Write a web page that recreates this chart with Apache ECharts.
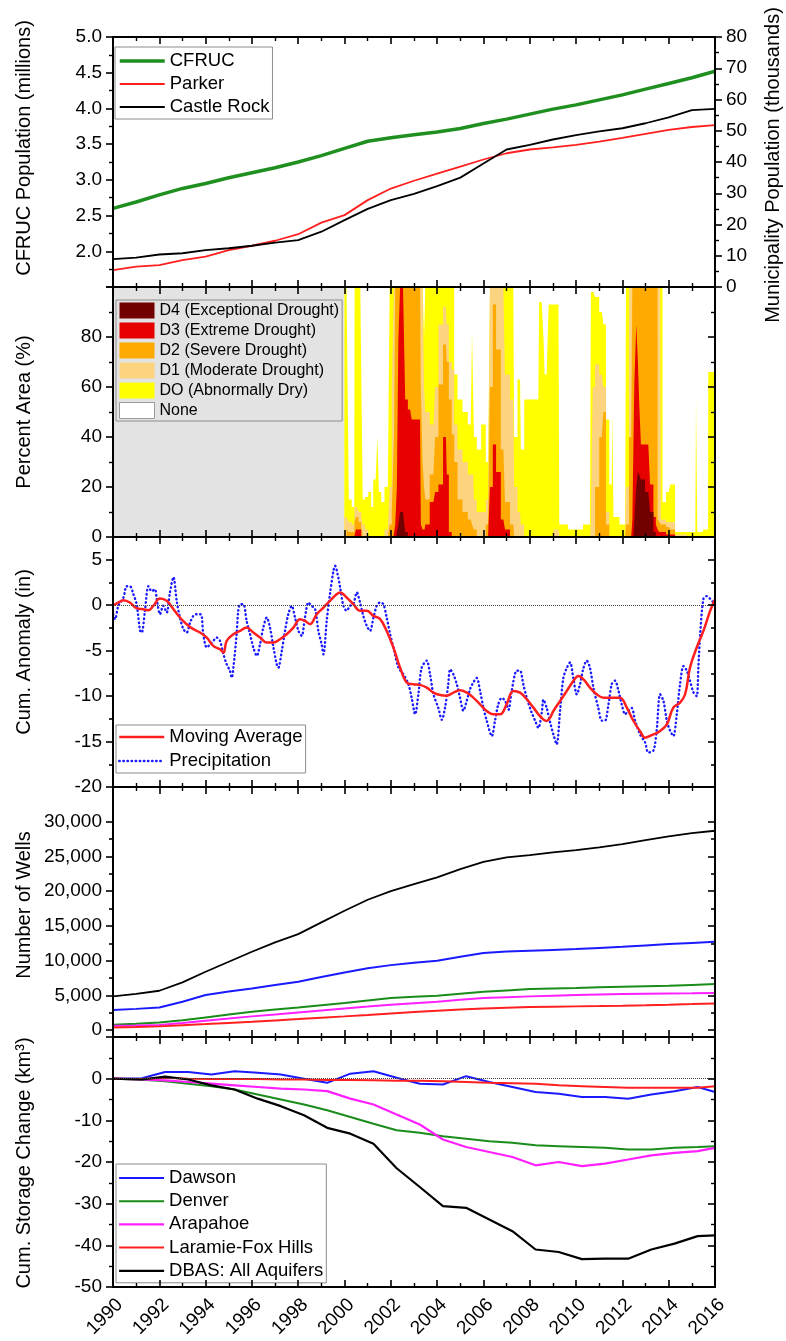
<!DOCTYPE html>
<html>
<head>
<meta charset="utf-8">
<script src="https://cdn.jsdelivr.net/npm/echarts@6/dist/echarts.min.js"></script>
<style>
html, body { margin: 0; padding: 0; background: #fff; }
#chart { width: 786px; height: 1341px; }
</style>
</head>
<body>
<div id="chart"></div>
<script>
// ---------- Population (annual) ----------
const years = [1990,1991,1992,1993,1994,1995,1996,1997,1998,1999,2000,2001,2002,2003,2004,2005,2006,2007,2008,2009,2010,2011,2012,2013,2014,2015,2016];
const cfrucMillions = [2.60,2.69,2.79,2.88,2.95,3.03,3.10,3.17,3.25,3.34,3.44,3.54,3.59,3.63,3.67,3.72,3.79,3.85,3.92,3.99,4.05,4.12,4.19,4.27,4.35,4.43,4.52];
const parkerThousands = [5.4,6.5,7.0,8.6,9.7,11.8,13.2,14.8,16.9,20.6,23.0,27.8,31.5,34.0,36.3,38.5,40.8,42.8,44.0,44.7,45.5,46.5,47.7,49.0,50.3,51.2,51.8];
const castleRockThousands = [8.9,9.4,10.4,10.8,11.8,12.4,13.2,14.2,15.0,17.7,21.4,25.0,27.8,29.8,32.3,35.0,39.5,44.0,45.5,47.2,48.6,49.8,50.8,52.4,54.3,56.6,57.0];

// ---------- Drought monitor, cumulative percent area (D0-D4, D1-D4, ...) ----------
const droughtYear = [1999.99,2000.00,2000.17,2000.20,2000.42,2000.45,2000.53,2000.68,2000.76,2000.81,2000.95,2001.10,2001.20,2001.28,2001.38,2001.45,2001.52,2001.65,2001.80,2001.93,
  2001.97,2002.11,2002.16,2002.22,2002.30,2002.35,2002.45,2002.60,2002.64,2002.83,2002.97,2003.26,2003.33,2003.41,2003.46,2003.52,2003.84,2003.98,2004.13,2004.38,
  2004.45,2004.56,2004.70,2004.77,2004.99,2005.20,2005.45,2005.56,2005.62,2005.80,2006.00,2006.20,2006.36,2006.45,2006.64,2006.86,2007.00,2007.29,2007.36,2007.58,
  2007.65,2007.87,2008.37,2008.44,2008.59,2008.62,2008.66,2008.80,2008.83,2009.24,2009.31,2010.00,2010.60,2010.68,2010.75,2010.89,2011.11,2011.25,2011.33,2011.54,
  2011.60,2011.63,2012.12,2012.19,2012.38,2012.48,2012.55,2012.65,2012.69,2012.76,2012.84,2013.12,2013.27,2013.41,2013.48,2013.56,2013.63,2013.70,2013.77,2014.00,
  2014.13,2014.42,2015.15,2015.21,2015.26,2015.70,2015.72,2016.00];
const d0Pct = [0,100,100,15,12,100,100,100,100,15,16,18,12,23,20,40,18,14,20,15,
  100,100,100,100,100,100,100,100,100,100,100,100,100,100,80,100,100,100,100,100,
  100,100,100,65,55,50,45,82,40,35,45,30,100,100,100,100,100,100,40,63,
  35,55,55,94,94,77,65,65,93,93,5,3,5,98,98,96,90,85,47,21,
  50,8,5,100,100,100,100,100,100,100,100,100,100,100,100,100,100,100,14,18,
  21,2,2,55,2,3,66,66];
const d1Pct = [0,8,8,6,5,12,12,10,8,5,3,0,0,0,0,0,0,0,3,3,
  20,60,100,100,100,100,100,100,100,100,100,100,100,100,60,50,45,60,85,92,
  85,70,67,45,35,30,25,25,15,10,10,15,100,100,100,100,65,55,20,10,
  5,0,0,0,0,0,0,0,0,3,0,0,0,5,60,69,65,60,10,0,
  0,0,0,20,100,100,100,100,100,100,100,100,100,100,100,100,100,7,7,6,
  6,1,0,0,0,0,0,0];
const d2Pct = [0,0,3,2,2,6,8,6,4,0,0,0,0,0,0,0,0,0,0,0,
  5,10,40,100,100,100,100,100,100,100,100,100,60,30,20,15,25,40,61,77,
  70,55,41,30,15,10,7,5,3,0,0,5,60,93,75,35,14,5,0,0,
  0,0,0,0,0,0,0,0,0,0,0,0,0,0,0,20,40,50,5,0,
  0,0,0,5,40,100,100,100,100,100,100,100,100,100,100,7,6,5,5,4,
  3,0,0,0,0,0,0,0];
const d3Pct = [0,0,0,0,0,0,3,3,0,0,0,0,0,0,0,0,0,0,0,0,
  0,0,0,5,20,79,100,100,55,51,47,47,5,3,3,5,14,18,21,40,
  25,2,0,0,0,0,0,0,0,0,0,0,20,37,26,7,3,0,0,0,
  0,0,0,0,0,0,0,0,0,0,0,0,0,0,0,0,0,0,0,0,
  0,0,0,0,0,7,61,85,70,54,37,37,21,8,5,3,2,2,2,1,
  1,0,0,0,0,0,0,0];
const d4Pct = [0,0,0,0,0,0,0,0,0,0,0,0,0,0,0,0,0,0,0,0,
  0,0,0,0,0,5,10,10,2,0,0,0,0,0,0,0,0,0,0,0,
  0,0,0,0,0,0,0,0,0,0,0,0,0,0,0,0,0,0,0,0,
  0,0,0,0,0,0,0,0,0,0,0,0,0,0,0,0,0,0,0,0,
  0,0,0,0,0,0,7,20,26,25,23,18,10,2,0,0,0,0,0,0,
  0,0,0,0,0,0,0,0];

// ---------- Cumulative precipitation anomaly (in) ----------
const precipYear = [1990.01,1990.09,1990.23,1990.45,1990.59,1990.73,1990.88,1991.02,1991.17,1991.24,1991.38,1991.53,1991.67,1991.81,1991.89,1992.03,1992.17,1992.32,1992.46,1992.61,
  1992.75,1992.89,1993.04,1993.18,1993.33,1993.47,1993.61,1993.76,1993.83,1993.90,1994.05,1994.19,1994.33,1994.48,1994.62,1994.77,1994.91,1995.05,1995.13,1995.20,
  1995.34,1995.41,1995.49,1995.63,1995.77,1995.92,1996.06,1996.21,1996.35,1996.49,1996.64,1996.78,1996.93,1997.07,1997.14,1997.29,1997.43,1997.57,1997.72,1997.86,
  1998.01,1998.15,1998.29,1998.44,1998.58,1998.73,1998.87,1999.01,1999.09,1999.23,1999.37,1999.52,1999.59,1999.73,1999.81,1999.95,2000.09,2000.24,2000.38,2000.53,
  2000.67,2000.81,2000.96,2001.10,2001.25,2001.39,2001.53,2001.68,2001.82,2001.97,2002.11,2002.33,2002.54,2002.76,2002.90,2003.05,2003.19,2003.33,2003.55,2003.69,
  2003.84,2004.05,2004.20,2004.34,2004.48,2004.56,2004.70,2004.85,2004.99,2005.13,2005.28,2005.42,2005.56,2005.71,2005.85,2006.00,2006.14,2006.36,2006.50,2006.64,
  2006.79,2006.93,2007.08,2007.22,2007.44,2007.58,2007.72,2007.87,2008.08,2008.23,2008.37,2008.52,2008.59,2008.73,2008.88,2009.02,2009.16,2009.31,2009.45,2009.60,
  2009.74,2009.88,2010.03,2010.17,2010.32,2010.46,2010.60,2010.75,2010.96,2011.11,2011.25,2011.40,2011.54,2011.68,2011.83,2011.97,2012.12,2012.26,2012.40,2012.55,
  2012.76,2012.98,2013.12,2013.34,2013.48,2013.63,2013.77,2013.92,2014.06,2014.20,2014.35,2014.49,2014.64,2014.78,2014.92,2015.07,2015.21,2015.28,2015.36,2015.50,
  2015.64,2015.79,2015.93];
const precipIn = [-0.99,-1.54,-0.07,0.84,2.09,2.09,1.21,0.11,-2.83,-3.01,-0.62,2.09,1.54,1.76,0.66,-0.99,-0.07,-0.81,1.40,3.08,
  0.48,-1.36,-2.64,-3.01,-1.91,-1.17,-0.99,-0.99,-1.17,-3.19,-4.66,-4.30,-3.93,-3.56,-3.93,-5.40,-6.50,-7.23,-7.97,-6.87,
  -3.19,-0.62,0.11,0.11,-1.73,-3.19,-4.66,-5.58,-4.30,-2.46,-1.36,-2.46,-4.66,-6.50,-6.87,-5.03,-2.83,-0.99,-0.07,-1.36,
  -2.83,-3.38,-1.36,0.29,-0.07,-0.44,-2.83,-4.30,-5.40,-1.73,1.21,3.78,4.33,3.05,1.94,-0.07,-0.62,-0.07,0.11,1.40,
  0.29,-1.17,-2.28,-2.83,-1.36,-0.07,0.30,0.10,-1.36,-3.19,-4.66,-6.87,-7.60,-8.70,-10.20,-12.00,-9.80,-6.90,-6.10,-7.60,
  -9.80,-11.30,-12.60,-11.30,-8.70,-7.05,-7.60,-8.70,-10.20,-11.60,-10.50,-9.25,-8.50,-8.00,-9.40,-11.30,-12.70,-14.40,-12.70,-10.90,
  -10.20,-10.50,-11.50,-9.40,-7.20,-7.20,-8.70,-10.20,-11.80,-12.70,-13.50,-11.80,-10.40,-11.30,-12.90,-14.20,-15.30,-11.60,-8.00,-6.90,
  -6.30,-8.00,-9.80,-8.70,-6.90,-6.10,-6.90,-9.10,-11.30,-12.70,-12.70,-10.90,-8.70,-8.30,-9.40,-10.90,-12.00,-11.60,-11.30,-12.70,
  -14.20,-15.10,-16.20,-16.00,-13.80,-9.80,-10.50,-12.70,-13.80,-14.40,-12.00,-8.70,-6.70,-7.20,-8.30,-9.60,-10.00,-6.90,-3.20,0.70,
  1.00,0.70,0.30];
const avgYear = [1990.01,1990.23,1990.45,1990.73,1991.02,1991.31,1991.53,1991.74,1992.03,1992.32,1992.61,1992.89,1993.18,1993.47,1993.76,1994.05,1994.33,1994.62,1994.77,1994.91,
  1995.20,1995.49,1995.77,1996.06,1996.35,1996.64,1996.93,1997.21,1997.50,1997.79,1998.08,1998.29,1998.51,1998.80,1999.09,1999.37,1999.66,1999.81,2000.09,2000.38,
  2000.67,2000.96,2001.25,2001.53,2001.82,2002.11,2002.40,2002.69,2002.97,2003.26,2003.55,2003.84,2004.13,2004.41,2004.70,2004.99,2005.28,2005.56,2005.85,2006.14,
  2006.43,2006.72,2007.00,2007.29,2007.58,2007.87,2008.16,2008.44,2008.73,2008.88,2009.02,2009.31,2009.60,2009.88,2010.10,2010.32,2010.60,2010.89,2011.18,2011.61,
  2011.90,2012.19,2012.48,2012.76,2012.98,2013.34,2013.63,2013.92,2014.20,2014.49,2014.71,2014.92,2015.21,2015.50,2015.79,2016.00];
const avgIn = [0.00,0.29,0.55,0.29,-0.33,-0.44,-0.55,-0.07,0.73,0.48,-0.44,-1.36,-2.09,-2.64,-3.01,-3.56,-4.48,-4.85,-5.21,-3.93,
  -3.19,-2.83,-2.46,-3.01,-3.56,-4.11,-4.11,-3.74,-3.19,-2.46,-1.54,-1.73,-2.09,-0.99,-0.26,0.48,1.21,1.40,0.84,0.11,
  -0.62,-0.62,-1.17,-1.50,-2.83,-4.66,-6.87,-8.52,-8.70,-8.77,-9.07,-9.62,-9.88,-9.95,-9.62,-9.36,-9.62,-10.17,-10.90,-11.64,
  -12.00,-12.00,-10.90,-9.43,-9.62,-10.35,-11.27,-12.19,-12.74,-12.37,-11.64,-10.54,-9.43,-8.33,-7.78,-8.15,-9.07,-9.80,-10.17,-10.17,
  -10.17,-11.27,-12.74,-13.84,-14.57,-14.21,-13.84,-13.11,-11.27,-10.72,-9.80,-6.87,-4.66,-2.83,-0.62,0.66];

// ---------- Wells (annual) ----------
const wellsAll = [4850,5200,5660,6860,8400,9840,11280,12620,13820,15500,17180,18760,20000,21000,22000,23180,24230,24860,25190,25580,25910,26300,26780,27350,27880,28360,28700];
const wellsDawson = [2880,3050,3260,4080,5040,5550,6000,6480,6960,7650,8300,8900,9350,9700,9980,10550,11090,11300,11420,11540,11660,11830,12000,12190,12380,12550,12720];
const wellsDenver = [770,900,1100,1400,1820,2230,2640,2950,3260,3580,3890,4250,4610,4780,4940,5230,5520,5710,5900,5980,6050,6150,6240,6310,6380,6500,6620];
const wellsArapahoe = [620,660,720,1000,1340,1650,1970,2250,2540,2830,3120,3380,3650,3870,4080,4350,4610,4730,4850,4950,5040,5110,5180,5230,5280,5300,5330];
const wellsLaramie = [380,450,530,700,860,1030,1200,1390,1580,1780,1970,2180,2400,2600,2780,2950,3120,3220,3310,3360,3410,3450,3500,3570,3650,3740,3840];

// ---------- Cumulative groundwater storage change (km3) ----------
const storageYear = [1990,1991.25,1992.25,1993.25,1994.25,1995.25,1996.25,1997.25,1998.25,1999.25,2000.25,2001.25,2002.25,2003.25,2004.25,2005.25,2006.25,2007.25,2008.25,2009.25,2010.25,2011.25,2012.25,2013.25,2014.25,2015.25,2016];
const storDawson = [0,0.1,1.6,1.6,1.0,1.8,1.4,1.0,0.0,-1.0,1.2,1.8,0.2,-1.2,-1.4,0.6,-0.8,-2.0,-3.2,-3.6,-4.4,-4.4,-4.8,-3.8,-3.0,-2.0,-3.2];
const storDenver = [0,-0.25,-0.6,-1.2,-1.8,-2.6,-3.8,-5.0,-6.2,-7.6,-9.2,-10.8,-12.4,-13.0,-13.8,-14.4,-15.0,-15.4,-16.0,-16.2,-16.4,-16.6,-17.0,-17.0,-16.6,-16.4,-16.2];
const storArapahoe = [0,-0.2,-0.4,-0.8,-1.2,-1.6,-2.0,-2.4,-2.6,-3.0,-4.8,-6.2,-8.6,-11.0,-14.6,-16.4,-17.6,-18.8,-20.8,-20.0,-21.0,-20.4,-19.4,-18.4,-17.8,-17.4,-16.6];
const storLaramie = [0,-0.1,0.2,0.0,-0.1,-0.1,-0.1,-0.2,-0.2,-0.3,-0.3,-0.4,-0.5,-0.5,-0.6,-0.8,-1.0,-1.1,-1.2,-1.6,-1.8,-2.0,-2.2,-2.2,-2.2,-2.2,-1.8];
const storDBAS = [0,-0.2,0.5,-0.2,-1.6,-2.6,-4.8,-6.6,-8.8,-11.8,-13.2,-15.6,-21.5,-26.0,-30.6,-31.0,-33.8,-36.6,-41.0,-41.6,-43.3,-43.2,-43.2,-41.0,-39.6,-37.8,-37.6];

// ---------- Axis tick values ----------
const anomalyMajor = [-20,-15,-10,-5,0,5];
const anomalyMinor = [-17.5,-12.5,-7.5,-2.5,2.5];
const wellsMajor = [0,5000,10000,15000,20000,25000,30000];
const wellsMinor = [2500,7500,12500,17500,22500,27500];

// ---------- Helpers ----------
const FONT = '"Liberation Sans", Arial, Helvetica, sans-serif';
const pairs = (xs, ys) => xs.map((x, i) => [x, ys[i]]);
const tops = [37, 287, 537, 787, 1037];
const PANEL_H = 250;

function xAxisFor(i, pos) {
  const labelled = (i === 4 && pos === 'bottom');
  return {
    type: 'value', gridIndex: i, position: pos, min: 1990, max: 2016, interval: 2, z: 6,
    axisLine: { show: true, onZero: false, lineStyle: { color: '#000', width: 2 } },
    axisTick: { show: true, inside: true, length: 7, lineStyle: { color: '#000', width: 1.6 } },
    minorTick: { show: true, splitNumber: 2, length: 4, lineStyle: { color: '#000', width: 1.4 } },
    splitLine: { show: false },
    axisLabel: {
      show: labelled, rotate: 45, fontSize: 19, fontFamily: FONT, color: '#000',
      margin: 8, align: 'right', verticalAlign: 'top', formatter: v => String(v)
    }
  };
}

function yAxisFor(o) {
  const ax = {
    type: 'value', gridIndex: o.grid, position: o.pos, min: o.min, max: o.max, z: 6,
    axisLine: { show: o.line !== false, onZero: false, lineStyle: { color: '#000', width: 2 } },
    axisTick: { show: true, inside: !!o.inside, length: o.tickLen || 7, lineStyle: { color: '#000', width: 1.6 } },
    minorTick: { show: o.minor !== false, splitNumber: 2, length: 4, lineStyle: { color: '#000', width: 1.4 } },
    splitLine: { show: false },
    axisLabel: {
      show: !!o.labels, fontSize: 19, fontFamily: FONT, color: '#000', margin: 11,
      formatter: o.formatter
    }
  };
  if (o.interval !== undefined) ax.interval = o.interval;
  if (o.ticks) {
    ax.axisTick.customValues = o.ticks;
    ax.axisLabel.customValues = o.ticks;
  }
  return ax;
}

const yAxes = [
  // 0,1: population
  yAxisFor({ grid: 0, pos: 'left', min: 1.5, max: 5, interval: 0.5, labels: true,
    formatter: v => (v < 1.75 ? '' : v.toFixed(1)) }),
  yAxisFor({ grid: 0, pos: 'right', min: 0, max: 80, interval: 10, labels: true,
    formatter: v => String(v) }),
  // 2,3: drought
  yAxisFor({ grid: 1, pos: 'left', min: 0, max: 100, interval: 20, labels: true,
    formatter: v => (v >= 100 ? '' : String(v)) }),
  yAxisFor({ grid: 1, pos: 'right', min: 0, max: 100, interval: 20, inside: true }),
  // 4,5: precipitation anomaly (major) and 6,7 (minor ticks)
  yAxisFor({ grid: 2, pos: 'left', min: -20, max: 7.5, ticks: anomalyMajor, minor: false, labels: true,
    formatter: v => String(v) }),
  yAxisFor({ grid: 2, pos: 'right', min: -20, max: 7.5, ticks: anomalyMajor, minor: false, inside: true }),
  yAxisFor({ grid: 2, pos: 'left', min: -20, max: 7.5, ticks: anomalyMinor, minor: false, line: false, tickLen: 4 }),
  yAxisFor({ grid: 2, pos: 'right', min: -20, max: 7.5, ticks: anomalyMinor, minor: false, line: false, tickLen: 4, inside: true }),
  // 8,9: wells (major) and 10,11 (minor ticks)
  yAxisFor({ grid: 3, pos: 'left', min: -1000, max: 35000, ticks: wellsMajor, minor: false, labels: true,
    formatter: v => v.toLocaleString('en-US') }),
  yAxisFor({ grid: 3, pos: 'right', min: -1000, max: 35000, ticks: wellsMajor, minor: false, inside: true }),
  yAxisFor({ grid: 3, pos: 'left', min: -1000, max: 35000, ticks: wellsMinor, minor: false, line: false, tickLen: 4 }),
  yAxisFor({ grid: 3, pos: 'right', min: -1000, max: 35000, ticks: wellsMinor, minor: false, line: false, tickLen: 4, inside: true }),
  // 12,13: storage
  yAxisFor({ grid: 4, pos: 'left', min: -50, max: 10, interval: 10, labels: true,
    formatter: v => (v > 0 ? '' : String(v)) }),
  yAxisFor({ grid: 4, pos: 'right', min: -50, max: 10, interval: 10, inside: true })
];

const xAxes = [];
for (let i = 0; i < 5; i++) { xAxes.push(xAxisFor(i, 'bottom')); xAxes.push(xAxisFor(i, 'top')); }

function lineSeries(name, xi, yi, data, color, width, extra) {
  return Object.assign({
    type: 'line', name, xAxisIndex: xi, yAxisIndex: yi, data,
    symbol: 'none', showSymbol: false, silent: true,
    lineStyle: { color, width }, itemStyle: { color }
  }, extra || {});
}

const zeroLine = {
  silent: true, symbol: ['none', 'none'], label: { show: false },
  lineStyle: { type: 'dotted', color: '#444', width: 1 },
  data: [{ yAxis: 0 }]
};

const droughtColors = { d0: '#ffff00', d1: '#fcd37f', d2: '#ffaa00', d3: '#e60000', d4: '#730000' };
function droughtSeries(name, values, color, z) {
  return {
    type: 'line', name, xAxisIndex: 2, yAxisIndex: 2, data: pairs(droughtYear, values),
    symbol: 'none', showSymbol: false, silent: true, z, step: 'middle',
    lineStyle: { width: 0, color }, itemStyle: { color },
    areaStyle: { color, opacity: 1 }
  };
}

const GREEN = '#1f8f1f', RED = '#ff1f1f', BLUE = '#1a1aff', MAGENTA = '#ff1fff', BLACK = '#000';

const series = [
  // Population
  lineSeries('CFRUC', 0, 0, pairs(years, cfrucMillions), GREEN, 3.5),
  lineSeries('Parker', 0, 1, pairs(years, parkerThousands), RED, 1.8),
  lineSeries('Castle Rock', 0, 1, pairs(years, castleRockThousands), BLACK, 1.8),

  // Drought
  Object.assign(droughtSeries('DO (Abnormally Dry)', d0Pct, droughtColors.d0, 2), {
    markArea: {
      silent: true, itemStyle: { color: '#e3e3e3' },
      data: [[{ xAxis: 1990 }, { xAxis: 2000 }]]
    }
  }),
  droughtSeries('D1 (Moderate Drought)', d1Pct, droughtColors.d1, 3),
  droughtSeries('D2 (Severe Drought)', d2Pct, droughtColors.d2, 4),
  droughtSeries('D3 (Extreme Drought)', d3Pct, droughtColors.d3, 5),
  droughtSeries('D4 (Exceptional Drought)', d4Pct, droughtColors.d4, 6),
  { type: 'line', name: 'None', xAxisIndex: 2, yAxisIndex: 2, data: [], itemStyle: { color: '#ffffff' }, symbol: 'none' },

  // Precipitation anomaly
  lineSeries('Precipitation', 4, 4, pairs(precipYear, precipIn), BLUE, 2.4, {
    smooth: 0.3,
    lineStyle: { color: BLUE, width: 2.4, type: [0.5, 3.6], cap: 'round' },
    markLine: zeroLine
  }),
  lineSeries('Moving Average', 4, 4, pairs(avgYear, avgIn), RED, 2.5, { smooth: 0.4, z: 3 }),

  // Wells
  lineSeries('Wells: all', 6, 8, pairs(years, wellsAll), BLACK, 1.8),
  lineSeries('Wells: Dawson', 6, 8, pairs(years, wellsDawson), BLUE, 2),
  lineSeries('Wells: Denver', 6, 8, pairs(years, wellsDenver), '#1a8c1a', 2),
  lineSeries('Wells: Arapahoe', 6, 8, pairs(years, wellsArapahoe), MAGENTA, 2),
  lineSeries('Wells: Laramie-Fox Hills', 6, 8, pairs(years, wellsLaramie), RED, 2),

  // Storage change
  lineSeries('Dawson', 8, 12, pairs(storageYear, storDawson), BLUE, 2, { markLine: zeroLine }),
  lineSeries('Denver', 8, 12, pairs(storageYear, storDenver), '#1a8c1a', 2),
  lineSeries('Arapahoe', 8, 12, pairs(storageYear, storArapahoe), MAGENTA, 2.2),
  lineSeries('Laramie-Fox Hills', 8, 12, pairs(storageYear, storLaramie), RED, 2),
  lineSeries('DBAS: All Aquifers', 8, 12, pairs(storageYear, storDBAS), BLACK, 2.2)
];

const legendText = { fontSize: 18.5, fontFamily: FONT, color: '#000', lineHeight: 20 };
const legendBox = { borderColor: '#8c8c8c', borderWidth: 1, backgroundColor: 'transparent', selectedMode: false, orient: 'vertical' };
// line-only legend keys (no marker on the line)
const lineKey = (name, width) => ({ name, lineStyle: { width }, itemStyle: { opacity: 0 } });

const legends = [
  Object.assign({}, legendBox, {
    left: 115, top: 47, padding: [4, 3, 2, 3], itemGap: 3, itemWidth: 45, itemHeight: 14,
    textStyle: legendText,
    data: [lineKey('CFRUC', 3.5), lineKey('Parker', 1.8), lineKey('Castle Rock', 1.8)]
  }),
  Object.assign({}, legendBox, {
    left: 116, top: 300, padding: [2, 3, 2, 3], itemGap: 3, itemWidth: 35, itemHeight: 16,
    icon: 'rect',
    textStyle: { fontSize: 16, fontFamily: FONT, color: '#000', lineHeight: 17 },
    data: [
      { name: 'D4 (Exceptional Drought)' },
      { name: 'D3 (Extreme Drought)' },
      { name: 'D2 (Severe Drought)' },
      { name: 'D1 (Moderate Drought)' },
      { name: 'DO (Abnormally Dry)' },
      { name: 'None', itemStyle: { color: '#ffffff', borderColor: '#9a9a9a', borderWidth: 1 } }
    ]
  }),
  Object.assign({}, legendBox, {
    left: 116, top: 725, padding: [2, 3, 2, 2], itemGap: 4, itemWidth: 45, itemHeight: 14,
    textStyle: legendText,
    data: [lineKey('Moving Average', 2.5), lineKey('Precipitation', 2.4)]
  }),
  Object.assign({}, legendBox, {
    left: 116, top: 1164, padding: [4, 3, 2, 2], itemGap: 3.2, itemWidth: 45, itemHeight: 14,
    textStyle: legendText,
    data: [lineKey('Dawson', 2), lineKey('Denver', 2), lineKey('Arapahoe', 2.2),
           lineKey('Laramie-Fox Hills', 2), lineKey('DBAS: All Aquifers', 2.2)]
  })
];

function axisTitle(text, x, y) {
  return {
    type: 'text', x, y, rotation: Math.PI / 2, silent: true, z: 10,
    style: { text, fontSize: 20, fontFamily: FONT, fill: '#000', align: 'center', verticalAlign: 'middle' }
  };
}

const chart = echarts.init(document.getElementById('chart'), null, { renderer: 'canvas' });
chart.setOption({
  animation: false,
  backgroundColor: '#fff',
  grid: tops.map(t => ({ left: 113, right: 71, top: t, height: PANEL_H })),
  xAxis: xAxes,
  yAxis: yAxes,
  legend: legends,
  series,
  graphic: [
    axisTitle('CFRUC Population (millions)', 24, 148),
    axisTitle('Municipality Population (thousands)', 773, 165),
    axisTitle('Percent Area (%)', 24, 412),
    axisTitle('Cum. Anomaly (in)', 24, 652),
    axisTitle('Number of Wells', 24, 905),
    axisTitle('Cum. Storage Change (km\u00B3)', 24, 1163)
  ]
});
</script>
</body>
</html>
